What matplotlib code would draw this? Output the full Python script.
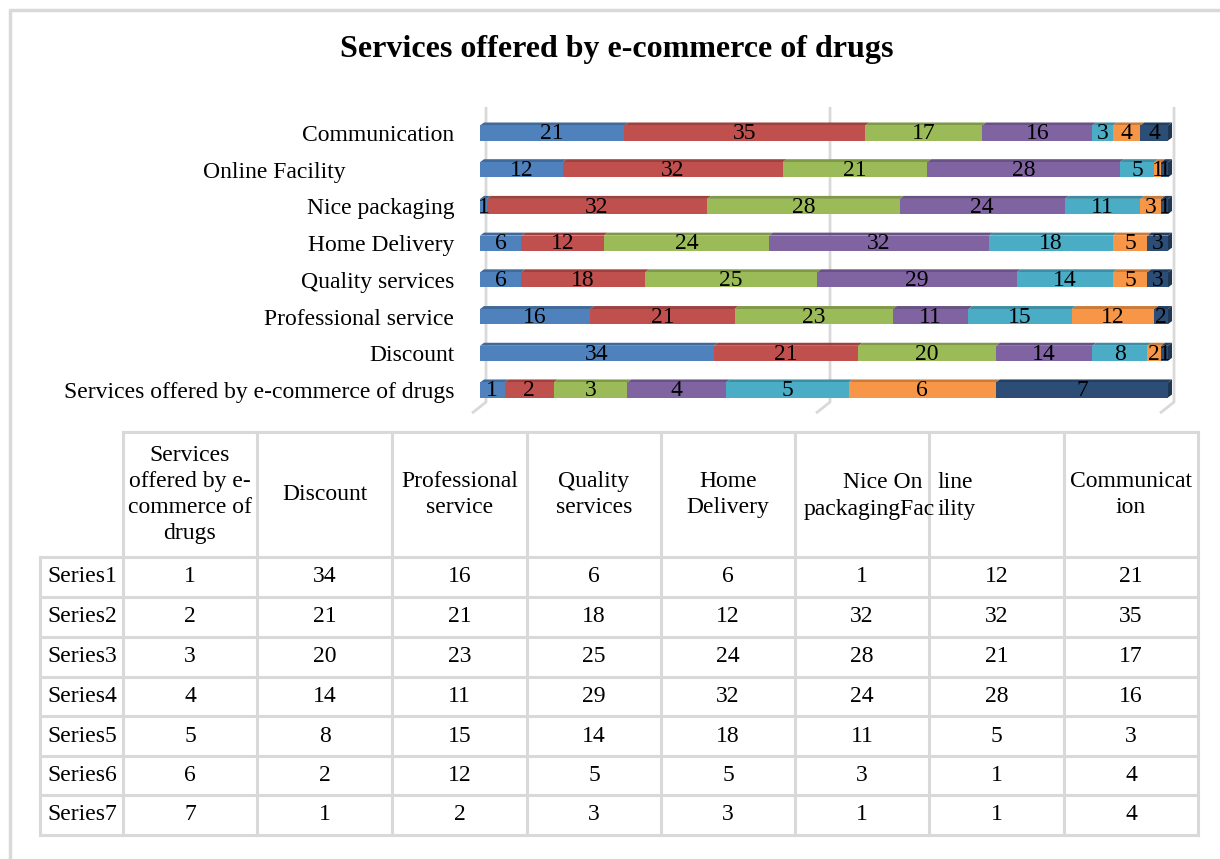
import matplotlib.pyplot as plt
import numpy as np
from matplotlib.patches import Polygon, Rectangle
from matplotlib.transforms import ScaledTranslation

plt.rcParams['font.family'] = ['Liberation Serif', 'DejaVu Serif']

categories = ["Services offered by e-commerce of drugs", "Discount", "Professional service",
              "Quality services", "Home Delivery", "Nice packaging", "Online Facility",
              "Communication"]
series_names = ["Series1", "Series2", "Series3", "Series4", "Series5", "Series6", "Series7"]
series1 = [1, 34, 16, 6, 6, 1, 12, 21]
series2 = [2, 21, 21, 18, 12, 32, 32, 35]
series3 = [3, 20, 23, 25, 24, 28, 21, 17]
series4 = [4, 14, 11, 29, 32, 24, 28, 16]
series5 = [5, 8, 15, 14, 18, 11, 5, 3]
series6 = [6, 2, 12, 5, 5, 3, 1, 4]
series7 = [7, 1, 2, 3, 3, 1, 1, 4]
series = [series1, series2, series3, series4, series5, series6, series7]

colors = ['#4F81BD', '#C0504D', '#9BBB59', '#8064A2', '#4BACC6', '#F79646', '#2C4D75']

# header row of the data table as it comes out of the sheet
header_labels = ["Services\noffered by e-\ncommerce of\ndrugs", "Discount", "Professional\nservice",
                 "Quality\nservices", "Home\nDelivery", None, None, "Communicat\nion"]

W, H = 1220, 859
fig = plt.figure(figsize=(W / 100, H / 100), dpi=100)


def shade(c, f):
    r, g, b = plt.matplotlib.colors.to_rgb(c)
    return (r * f, g * f, b * f)


# --- chart area: 100% stacked bars with a little 3D depth ---
x0, x1, y0, y1 = 480, 1168, 100, 420
ax = fig.add_axes([x0 / W, 1 - y1 / H, (x1 - x0) / W, (y1 - y0) / H])
row_px = 36.7
ax.set_xlim(0, 100)
ax.set_ylim(-(y1 - 390) / row_px, 7 + (133 - y0) / row_px)
for s in ax.spines.values():
    s.set_visible(False)
ax.set_xticks([])

px_x = (x1 - x0) / 100.0
dx, dy = 4 / px_x, 3 / row_px
h = 0.41

# back wall gridlines with the slanted floor part
for g in [0, 50, 100]:
    xb = g + 6 / px_x
    ax.plot([xb, xb, xb - 14 / px_x], [7.71, -0.33, -0.63], color='#D9D9D9', lw=2,
            solid_capstyle='butt', zorder=0, clip_on=False)

vals = np.array(series, dtype=float)
pct = vals / vals.sum(axis=0) * 100
y = np.arange(len(categories))
left = np.zeros(len(categories))
for k in range(len(series)):
    ax.barh(y, pct[k], left=left, height=h, color=colors[k], zorder=2)
    for i in range(len(categories)):
        l, r = left[i], left[i] + pct[k][i]
        top = y[i] + h / 2
        ax.add_patch(Polygon([(l, top), (r, top), (r + dx, top + dy), (l + dx, top + dy)],
                             closed=True, color=shade(colors[k], 0.82), lw=0, zorder=1,
                             clip_on=False))
        if k == len(series) - 1:
            bot = y[i] - h / 2
            ax.add_patch(Polygon([(r, bot), (r, top), (r + dx, top + dy), (r + dx, bot + dy)],
                                 closed=True, color=shade(colors[k], 0.7), lw=0, zorder=1,
                                 clip_on=False))
        ax.text((l + r) / 2, y[i] - 0.02, str(series[k][i]), ha='center', va='center',
                fontsize=17, color='black', zorder=3)
    left += pct[k]

ax.set_yticks(y, categories, fontsize=17)
ax.tick_params(axis='y', length=0, pad=18.5)
lab = ax.get_yticklabels()[categories.index("Online Facility")]
lab.set_transform(lab.get_transform() + ScaledTranslation(-1.09, 0, fig.dpi_scale_trans))

# --- overlay in pixel space: frame, title, data table ---
ov = fig.add_axes([0, 0, 1, 1], zorder=-1)
ov.set_xlim(0, W)
ov.set_ylim(H, 0)
ov.axis('off')

ov.plot([10, 10, W], [H, 10, 10], color='#D9D9D9', lw=2.5)
ov.text(617, 50, "Services offered by e-commerce of drugs", ha='center', va='center',
        fontsize=23, fontweight='bold')

col_edges = [123, 257, 392, 527, 661, 795, 929, 1064, 1198]
row_edges = [557, 597, 637, 677, 716, 756, 795, 835]
head_top = 432
lc = '#D9D9D9'
lw = 2.2
fs = 17
ls = 1.33

ov.plot([col_edges[0], col_edges[-1]], [head_top, head_top], color=lc, lw=lw)
for yy in row_edges:
    ov.plot([40, col_edges[-1]], [yy, yy], color=lc, lw=lw)
for xx in col_edges:
    ov.plot([xx, xx], [head_top, row_edges[-1]], color=lc, lw=lw)
ov.plot([40, 40], [row_edges[0], row_edges[-1]], color=lc, lw=lw)

hy = (head_top + row_edges[0]) / 2
for j, txt in enumerate(header_labels):
    if txt is None:
        continue
    cx = (col_edges[j] + col_edges[j + 1]) / 2
    ov.text(cx, hy, txt, ha='center', va='center', fontsize=fs, linespacing=ls)

# the two squeezed header cells
clip5 = Rectangle((col_edges[5], head_top), 132, row_edges[0] - head_top, transform=ov.transData)
ov.text(922, 482, "Nice On", ha='right', va='center', fontsize=fs)
t = ov.text(935, 510, "packagingFac", ha='right', va='center', fontsize=fs)
t.set_clip_path(clip5)
ov.text(937, 482, "line", ha='left', va='center', fontsize=fs)
ov.text(937, 510, "ility", ha='left', va='center', fontsize=fs)

for k, name in enumerate(series_names):
    cy = (row_edges[k] + row_edges[k + 1]) / 2
    ov.text(47, cy, name, ha='left', va='center', fontsize=fs)
    for j in range(len(categories)):
        cx = (col_edges[j] + col_edges[j + 1]) / 2
        ov.text(cx, cy, str(series[k][j]), ha='center', va='center', fontsize=fs)

fig.savefig('out.png', dpi=100, facecolor='white')
